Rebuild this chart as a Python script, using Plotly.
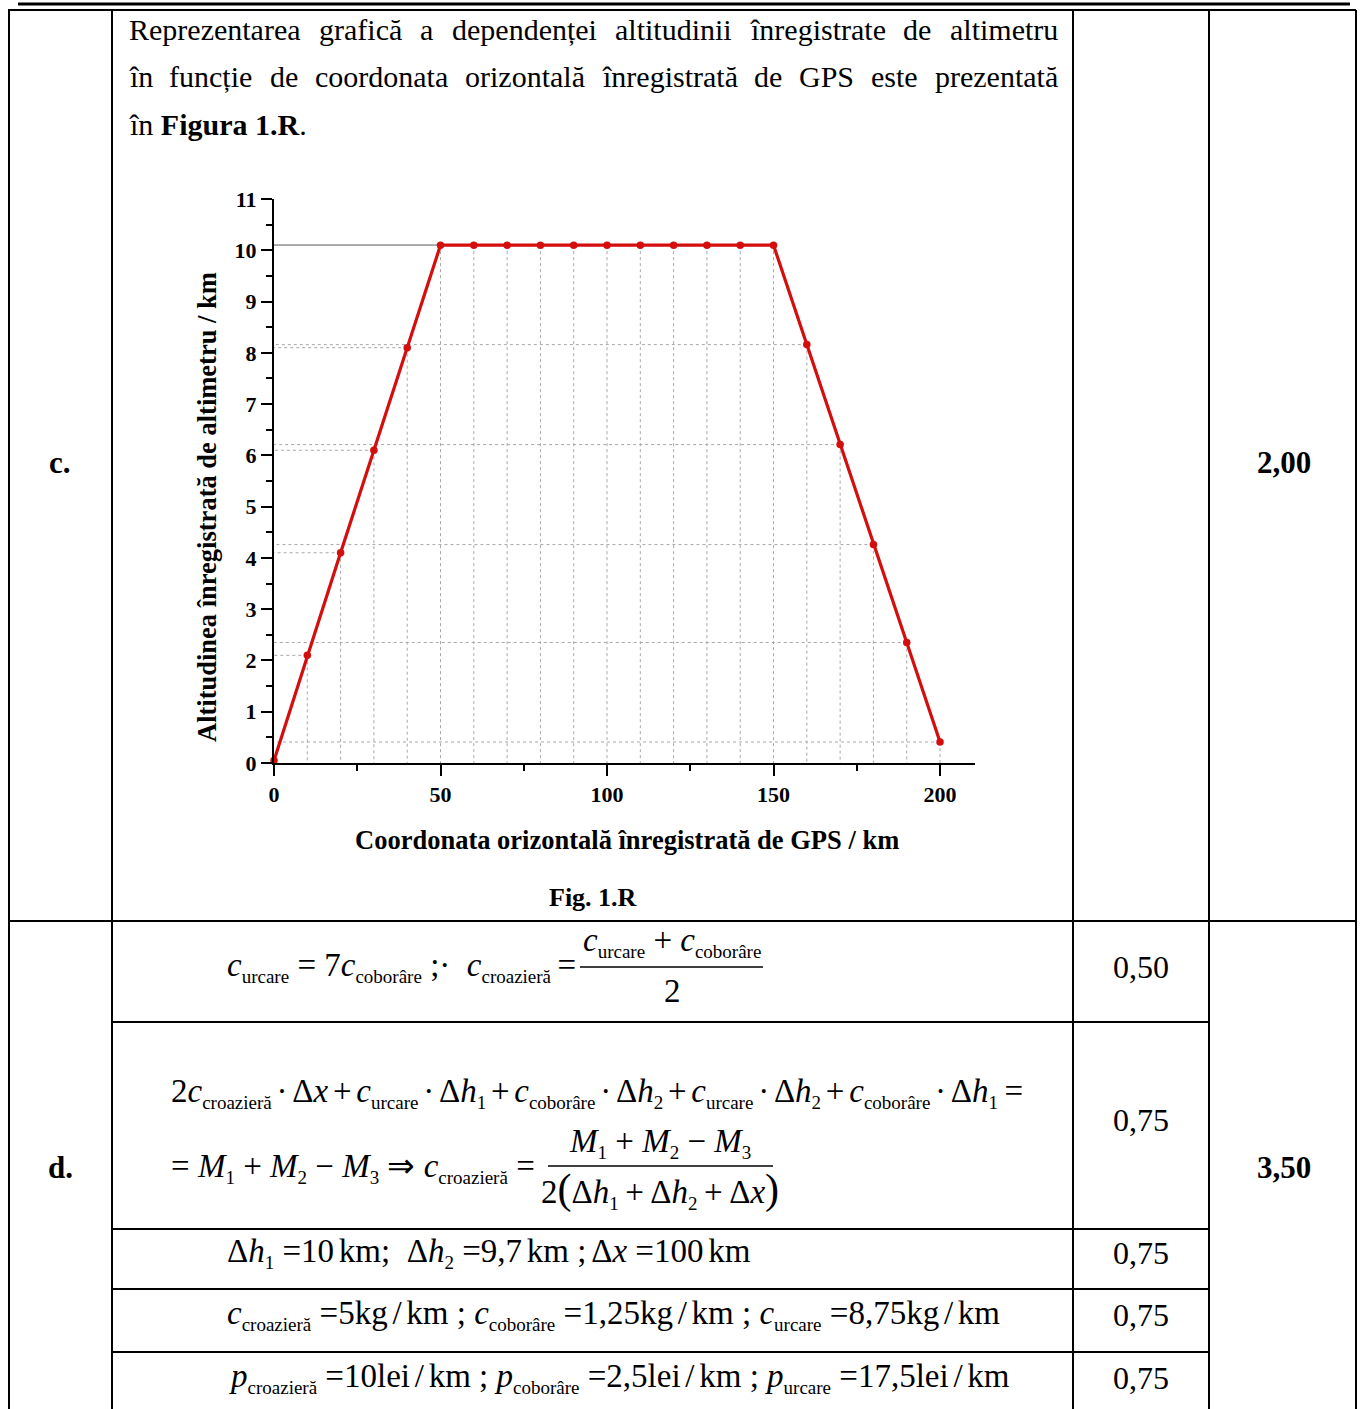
import plotly.graph_objects as go

W, H = 1362, 1409

# ---------------- data ----------------
x_km = [0, 10, 20, 30, 40, 50, 60, 70, 80, 90, 100, 110, 120, 130, 140, 150, 160, 170, 180, 190, 200]
alt_km = [0.05, 2.1, 4.1, 6.1, 8.1, 10.1, 10.1, 10.1, 10.1, 10.1, 10.1, 10.1, 10.1, 10.1, 10.1, 10.1,
          8.16, 6.21, 4.26, 2.35, 0.41]
x_ticks = [0, 50, 100, 150, 200]
y_ticks = list(range(0, 12))

x_title = "Coordonata orizontală înregistrată de GPS / km"
y_title = "Altitudinea înregistrată de altimetru / km"
fig_caption = "Fig. 1.R"
para_lines = [
    "Reprezentarea grafică a dependenței altitudinii înregistrate de altimetru",
    "în funcție de coordonata orizontală înregistrată de GPS este prezentată",
]
row_labels = ["c.", "d."]
row_totals = ["2,00", "3,50"]
sub_points = ["0,50", "0,75", "0,75", "0,75", "0,75"]

RED = "#d40d0d"
SERIF = "Liberation Serif"


def px(x):
    return x / W


def py(y):
    return 1 - y / H


fig = go.Figure()

# drop lines (derived from the data)
vx, vy, hx, hy = [], [], [], []
for xv, yv in zip(x_km, alt_km):
    if xv == 0:
        continue
    vx += [xv, xv, None]
    vy += [yv, 0, None]
    hx += [xv, 0, None]
    hy += [yv, yv, None]
fig.add_trace(go.Scatter(x=vx, y=vy, mode="lines", line=dict(color="#a8a8a8", width=1, dash="dot"),
                         hoverinfo="skip", showlegend=False))
fig.add_trace(go.Scatter(x=hx, y=hy, mode="lines", line=dict(color="#a8a8a8", width=1, dash="dot"),
                         hoverinfo="skip", showlegend=False))
fig.add_trace(go.Scatter(x=x_km, y=alt_km, mode="lines+markers",
                         line=dict(color=RED, width=3.2),
                         marker=dict(color=RED, size=7.5),
                         cliponaxis=False, showlegend=False))

fig.update_xaxes(domain=[px(274), px(975)], range=[0, 210.5], showline=True, linecolor="black",
                 linewidth=2, ticks="outside", ticklen=11, tickwidth=2, tickcolor="black",
                 tickvals=x_ticks, showgrid=False, zeroline=False, automargin=False,
                 minor=dict(ticks="outside", ticklen=6, tickwidth=2, tickcolor="black", dtick=25, tick0=0,
                            showgrid=False),
                 tickfont=dict(family=SERIF, size=22, color="black", weight="bold"))
fig.update_yaxes(domain=[py(763), py(199)], range=[0, 11], showline=True, linecolor="black",
                 linewidth=2, ticks="outside", ticklen=11, tickwidth=2, tickcolor="black",
                 tickvals=y_ticks, showgrid=False, zeroline=False, automargin=False,
                 minor=dict(ticks="outside", ticklen=6, tickwidth=2, tickcolor="black", dtick=0.5, tick0=0,
                            showgrid=False),
                 tickfont=dict(family=SERIF, size=22, color="black", weight="bold"))

shapes = []


def hline(y, x0, x1, w=2):
    shapes.append(dict(type="line", xref="paper", yref="paper", x0=px(x0), x1=px(x1), y0=py(y), y1=py(y),
                       line=dict(color="black", width=w)))


def vline(x, y0, y1, w=2):
    shapes.append(dict(type="line", xref="paper", yref="paper", x0=px(x), x1=px(x), y0=py(y0), y1=py(y1),
                       line=dict(color="black", width=w)))


hline(4, 18, 1350, 3)
hline(10, 8, 1356)
for xv in [9, 112, 1073, 1209, 1356]:
    vline(xv, 10, 1409)
hline(921, 8, 1356)
for yv in [1022, 1229, 1289, 1352]:
    hline(yv, 112, 1209)
# fraction bars
hline(967, 580, 763, 1.3)
hline(1166, 548, 773, 1.3)

ann = []


def text(x, y, s, size=28, xanchor="left", yanchor="middle", bold=False, angle=0):
    ann.append(dict(x=px(x), y=py(y), xref="paper", yref="paper", text=s, showarrow=False,
                    xanchor=xanchor, yanchor=yanchor, textangle=angle, borderpad=0,
                    font=dict(family=SERIF, size=size, color="black", weight="bold" if bold else "normal")))


# --- justified paragraph (Times metrics) ---
TW = {' ': 250, 'a': 444, 'ă': 444, 'c': 444, 'd': 500, 'e': 444, 'f': 333, 'g': 500, 'i': 278, 'î': 278,
      'l': 278, 'm': 778, 'n': 500, 'o': 500, 'p': 500, 'r': 333, 's': 389, 't': 278, 'ț': 278, 'u': 500,
      'z': 444, 'G': 722, 'P': 556, 'S': 556, 'R': 667}
FS = 30
L0, L1 = 128, 1057
for line, yv in zip(para_lines, [29, 77]):
    words = line.split(" ")
    widths = [sum(TW.get(ch, 500) for ch in w_) * FS / 1000 for w_ in words]
    gap = (L1 - L0 - sum(widths)) / (len(words) - 1)
    xc = L0
    for w_, wd in zip(words, widths):
        text(xc, yv, w_, FS)
        xc += wd + gap
text(L0, 124, "în <b>Figura 1.R</b>.", FS)

# labels
text(60, 463, row_labels[0], 31, "center", bold=True)
text(60, 1167, row_labels[1], 31, "center", bold=True)
text(1284, 463, row_totals[0], 31, "center", bold=True)
text(1284, 1167, row_totals[1], 31, "center", bold=True)
for s, yv in zip(sub_points, [967, 1120, 1253, 1315, 1378]):
    text(1141, yv, s, 32, "center")

# chart titles
text(627, 840, x_title, 26.5, "center", bold=True)
text(207, 507, y_title, 26.5, "center", bold=True, angle=-90)
text(593, 897, fig_caption, 26, "center", bold=True)


# --- formulas ---
def it(s):
    return f"<i>{s}</i>"


def sb(s, size=19):
    return f'<sub><span style="font-size:{size}px">{s}</span></sub>'


def sp(size):
    return f'<span style="font-size:{size}px">\u00a0</span>'


NB = "\u00a0"
S1 = sp(19)   # narrow space
S2 = sp(26)
MF = 33

r1 = (it("c") + sb("urcare") + NB + "= 7" + it("c") + sb("coborâre") + NB + ";·" + NB * 2 +
      it("c") + sb("croazieră") + S2 + "=")
text(226, 967, r1, MF)
num1 = it("c") + sb("urcare") + NB + "+" + NB + it("c") + sb("coborâre")
text(672, 942, num1, MF, "center")
text(672, 991, "2", MF, "center")

r2a = ("2" + it("c") + sb("croazieră") + S1 + "·" + S1 + "Δ" + it("x") + S1 + "+" + S1 + it("c") + sb("urcare") +
       S1 + "·" + S1 + "Δ" + it("h") + sb("1") + S1 + "+" + S1 + it("c") + sb("coborâre") + S1 + "·" + S1 + "Δ" +
       it("h") + sb("2") + S1 + "+" + S1 + it("c") + sb("urcare") + S1 + "·" + S1 + "Δ" + it("h") + sb("2") +
       S1 + "+" + S1 + it("c") + sb("coborâre") + S1 + "·" + S1 + "Δ" + it("h") + sb("1") + S2 + "=")
text(170, 1093, r2a, MF)
r2b = ("=" + NB + it("M") + sb("1") + NB + "+" + NB + it("M") + sb("2") + NB + "−" + NB + it("M") + sb("3") +
       NB + "⇒" + NB + it("c") + sb("croazieră") + NB + "=")
text(170, 1168, r2b, MF)
num2 = it("M") + sb("1") + NB + "+" + NB + it("M") + sb("2") + NB + "−" + NB + it("M") + sb("3")
text(660, 1143, num2, MF, "center")
den2 = ("2" + '<span style="font-size:42px">(</span>' + "Δ" + it("h") + sb("1") + S2 + "+" + S2 + "Δ" + it("h") +
        sb("2") + S2 + "+" + S2 + "Δ" + it("x") + '<span style="font-size:42px">)</span>')
text(660, 1190, den2, MF, "center")

r3 = ("Δ" + it("h") + sb("1") + NB + "=10" + S1 + "km;" + NB * 2 + "Δ" + it("h") + sb("2") + NB + "=9,7" + S1 +
      "km" + NB + ";" + S1 + "Δ" + it("x") + NB + "=100" + S1 + "km")
text(226, 1253, r3, MF)
SL = S1 + "/" + S1
r4 = (it("c") + sb("croazieră") + NB + "=5kg" + SL + "km" + NB + ";" + NB + it("c") + sb("coborâre") + NB +
      "=1,25kg" + SL + "km" + NB + ";" + NB + it("c") + sb("urcare") + NB + "=8,75kg" + SL + "km")
text(226, 1315, r4, MF)
r5 = (it("p") + sb("croazieră") + NB + "=10lei" + SL + "km" + NB + ";" + NB + it("p") + sb("coborâre") + NB +
      "=2,5lei" + SL + "km" + NB + ";" + NB + it("p") + sb("urcare") + NB + "=17,5lei" + SL + "km")
text(228, 1378, r5, MF)

fig.update_layout(width=W, height=H, margin=dict(l=0, r=0, t=0, b=0, pad=0, autoexpand=False),
                  paper_bgcolor="white", plot_bgcolor="white", shapes=shapes, annotations=ann,
                  showlegend=False)
fig.write_html("out.html", config={"displayModeBar": False, "responsive": False},
               post_script="document.documentElement.style.margin='0px';"
                           "document.body.style.margin='0px';document.body.style.padding='0px';"
                           "document.documentElement.style.overflow='hidden';"
                           "document.body.style.overflow='hidden';"
                           "var gd=document.getElementById('{plot_id}');"
                           "gd.style.position='fixed';gd.style.left='0px';gd.style.top='0px';")
